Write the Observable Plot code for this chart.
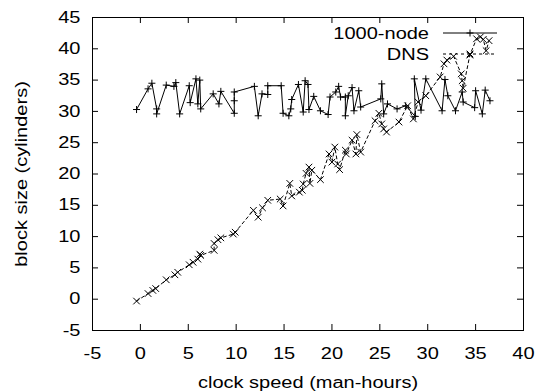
<!DOCTYPE html>
<html>
<head>
<meta charset="utf-8">
<script src="https://cdn.jsdelivr.net/npm/d3@7"></script>
<script src="https://cdn.jsdelivr.net/npm/@observablehq/plot@0.6"></script>
<style>
  html, body { margin: 0; padding: 0; background: white; }
  #chart { width: 536px; height: 392px; }
</style>
</head>
<body>
<div id="chart"></div>
<script>
// ---- data ----
const seriesNames = ["1000-node", "DNS"];
const xLabel = "clock speed (man-hours)";
const yLabel = "block size (cylinders)";
const xTicks = [-5, 0, 5, 10, 15, 20, 25, 30, 35, 40];
const yTicks = [-5, 0, 5, 10, 15, 20, 25, 30, 35, 40, 45];

const nodeX = [-0.4, 0.8, 1.2, 1.7, 1.7, 2.7, 3.5, 3.7, 4.1, 5.1, 5.2, 5.8, 6.0, 6.2, 6.3, 7.6, 8.2, 8.4,
  9.8, 9.8, 9.8, 11.9, 12.3, 12.7, 13.3, 13.3, 14.7, 14.9, 15.5, 15.7, 15.8, 16.5, 17.0, 17.2, 17.5, 17.6,
  18.1, 18.8, 19.6, 19.8, 20.4, 20.7, 20.9, 21.4, 21.4, 21.7, 22.1, 22.3, 22.8, 23.0, 25.1, 25.2, 25.4,
  25.8, 26.8, 27.7, 28.7, 28.6, 29.3, 29.8, 31.5, 31.8, 32.1, 32.9, 33.6, 33.7, 34.9, 35.0, 35.7, 36.0, 36.5];
const nodeY = [30.3, 33.6, 34.5, 30.4, 29.6, 34.2, 34.0, 34.6, 29.6, 34.1, 31.4, 35.2, 31.2, 35.0, 30.4, 32.8, 31.2, 33.2,
  29.7, 31.7, 33.1, 34.0, 29.3, 32.8, 32.7, 34.1, 34.1, 29.7, 29.3, 30.4, 31.9, 34.3, 29.9, 34.9, 34.3, 30.3,
  32.4, 30.1, 29.5, 32.3, 33.1, 34.0, 32.3, 32.3, 29.3, 32.5, 33.8, 30.1, 33.3, 30.7, 32.0, 34.4, 29.6,
  31.2, 30.4, 30.9, 29.2, 35.2, 30.2, 35.2, 30.1, 35.1, 32.5, 30.1, 33.1, 31.5, 30.6, 33.3, 29.6, 33.4, 31.7];

const dnsX = [-0.4, 0.8, 1.3, 1.6, 2.7, 3.6, 3.9, 5.1, 5.5, 6.0, 6.2, 6.3, 7.7, 7.7, 8.1, 8.4, 9.7, 9.9,
  11.8, 12.3, 12.75, 13.3, 14.6, 14.9, 15.6, 15.8, 16.6, 16.9, 17.0, 17.3, 17.6, 17.7, 17.9, 18.8,
  19.7, 20.0, 20.3, 20.6, 20.8, 21.4, 21.5, 22.1, 22.5, 22.6, 23.0, 24.5, 24.9, 25.2, 25.4, 25.7,
  27.0, 27.9, 28.5, 29.0, 29.8, 31.3, 31.7, 32.0, 32.7, 33.5, 33.6, 33.7, 34.4, 35.1, 35.5, 35.8, 36.1, 36.4];
const dnsY = [-0.3, 0.9, 1.4, 1.7, 3.1, 3.9, 4.3, 5.5, 5.9, 6.4, 7.2, 7.0, 7.8, 8.9, 9.5, 9.8, 10.4, 10.7,
  14.2, 13.1, 14.6, 15.8, 16.0, 14.9, 18.5, 16.5, 17.1, 17.4, 18.4, 20.1, 21.1, 18.5, 20.6, 19.1,
  23.2, 21.9, 24.3, 21.6, 20.7, 23.8, 23.2, 25.4, 23.2, 26.3, 23.5, 28.5, 29.7, 28.0, 27.2, 26.7,
  28.3, 30.9, 28.8, 31.5, 32.5, 35.5, 37.6, 38.2, 38.8, 36.0, 34.9, 33.7, 39.0, 41.6, 41.9, 41.5, 39.7, 41.3];

const node = nodeX.map((x, i) => ({x, y: nodeY[i]}));
const dns = dnsX.map((x, i) => ({x, y: dnsY[i]}));

// ---- layout ----
const W = 536, H = 392;
const mL = 92, mR = 13, mT = 17, mB = 62;
const innerW = W - mL - mR, innerH = H - mT - mB;
const TICK = 6;
const SX = 1.25; // horizontal glyph stretch of the reference font
const FONT = "'Liberation Sans', Arial, Helvetica, sans-serif";
const fmt = d => String(d);
const PLUS_R = 2.4, TIMES_R = 3.1;

const svg = Plot.plot({
  width: W, height: H,
  marginLeft: mL, marginRight: mR, marginTop: mT, marginBottom: mB,
  x: {domain: [-5, 40]},
  y: {domain: [-5, 45]},
  style: {fontFamily: FONT, fontSize: "16px", color: "black", background: "white", overflow: "visible"},
  marks: [
    Plot.axisX(xTicks, {tickSize: 0, tickPadding: 17, tickFormat: fmt, label: xLabel, labelArrow: false, labelAnchor: "center", labelOffset: 57}),
    Plot.axisY(yTicks, {tickSize: 0, tickPadding: 12, tickFormat: fmt, label: yLabel, labelArrow: false, labelAnchor: "center", labelOffset: 77}),
    Plot.ruleX(xTicks, {stroke: "black", insetTop: innerH - TICK}),
    Plot.ruleX(xTicks, {stroke: "black", insetBottom: innerH - TICK}),
    Plot.ruleY(yTicks, {stroke: "black", insetRight: innerW - TICK}),
    Plot.ruleY(yTicks, {stroke: "black", insetLeft: innerW - TICK}),
    Plot.line(node, {x: "x", y: "y", stroke: "black", strokeWidth: 1}),
    Plot.dot(node, {x: "x", y: "y", symbol: "plus", r: PLUS_R, stroke: "black", strokeWidth: 1}),
    Plot.line(dns, {x: "x", y: "y", stroke: "black", strokeWidth: 1, strokeDasharray: "3,3"}),
    Plot.dot(dns, {x: "x", y: "y", symbol: "times", r: TIMES_R, stroke: "black", strokeWidth: 1}),
    Plot.frame({stroke: "black", strokeWidth: 1})
  ]
});

// ---- legend (key) ----
const key = d3.select(svg).append("g")
  .attr("font-family", FONT).attr("font-size", 16).attr("fill", "black");
const rows = [
  {name: seriesNames[0], y: 33, dash: null, sym: d3.symbolPlus, size: Math.PI * PLUS_R * PLUS_R},
  {name: seriesNames[1], y: 54, dash: "3,3", sym: d3.symbolTimes, size: Math.PI * TIMES_R * TIMES_R}
];
rows.forEach(r => {
  key.append("text").attr("x", 429).attr("y", r.y + 6).attr("text-anchor", "end").text(r.name);
  const ln = key.append("line").attr("x1", 443).attr("x2", 497).attr("y1", r.y).attr("y2", r.y)
    .attr("stroke", "black").attr("stroke-width", 1);
  if (r.dash) ln.attr("stroke-dasharray", r.dash);
  key.append("path").attr("d", d3.symbol(r.sym, r.size)()).attr("transform", `translate(470,${r.y})`)
    .attr("fill", "none").attr("stroke", "black").attr("stroke-width", 1);
});

// stretch glyphs horizontally about each text's anchor
svg.querySelectorAll("text").forEach(t => {
  const x = +t.getAttribute("x") || 0;
  const tr = t.getAttribute("transform") || "";
  t.setAttribute("transform", `${tr} translate(${x},0) scale(${SX},1) translate(${-x},0)`);
});

document.getElementById("chart").appendChild(svg);
</script>
</body>
</html>
